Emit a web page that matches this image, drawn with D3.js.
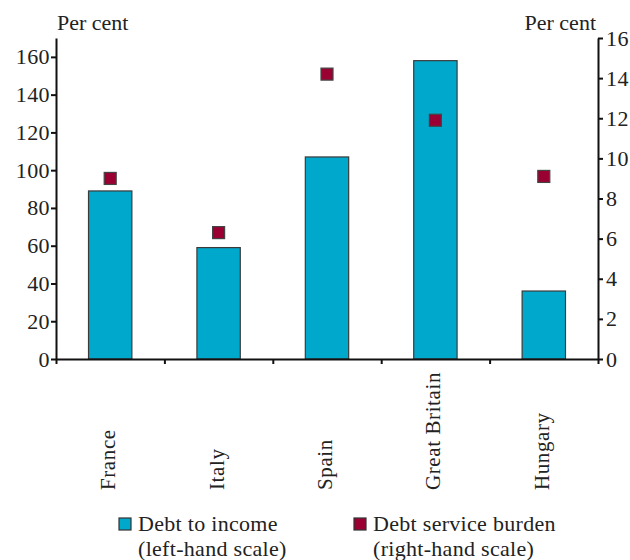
<!DOCTYPE html>
<html>
<head>
<meta charset="utf-8">
<script src="https://cdn.jsdelivr.net/npm/d3@7"></script>
<style>
  body { margin: 0; background: #fff; }
  text { font-family: "Liberation Serif", "DejaVu Serif", serif; fill: #222; }
</style>
</head>
<body>
<div class="chart"></div>
<script>
// values
var countries = ["France", "Italy", "Spain", "Great Britain", "Hungary"];
var debtToIncome = [89, 59, 107, 158, 36];          // left-hand scale, per cent
var debtService = [9.0, 6.3, 14.2, 11.9, 9.1];      // right-hand scale, per cent
var leftTicks = [0, 20, 40, 60, 80, 100, 120, 140, 160];
var rightTicks = [0, 2, 4, 6, 8, 10, 12, 14, 16];
var legendLabels = [["Debt to income", "(left-hand scale)"], ["Debt service burden", "(right-hand scale)"]];

var width = 630, height = 560;
var x0 = 56, x1 = 598, yBase = 359, yTop = 38;

var svg = d3.select("div.chart").append("svg")
  .attr("width", width)
  .attr("height", height);

var x = d3.scaleBand()
  .domain(countries)
  .range([x0, x1])
  .paddingInner(0.6)
  .paddingOuter(0.3);

var yLeft = d3.scaleLinear().domain([0, 170]).range([yBase, yTop]);
var yRight = d3.scaleLinear().domain([0, 16]).range([yBase, yTop]);
// boundaries between categories for the bottom ticks
var xEdge = d3.scaleLinear().domain([0, countries.length]).range([x0, x1]);

// bars
svg.selectAll("rect.bar")
  .data(countries)
  .enter().append("rect")
  .attr("class", "bar")
  .attr("x", function (d) { return x(d); })
  .attr("width", x.bandwidth())
  .attr("y", function (d, i) { return yLeft(debtToIncome[i]); })
  .attr("height", function (d, i) { return yBase - yLeft(debtToIncome[i]); })
  .style("fill", "#00a9cb")
  .style("stroke", "#3a3a3a")
  .style("stroke-width", 1.2);

// markers
var ms = 12;
svg.selectAll("rect.mark")
  .data(countries)
  .enter().append("rect")
  .attr("class", "mark")
  .attr("x", function (d) { return x(d) + x.bandwidth() / 2 - ms / 2; })
  .attr("y", function (d, i) { return yRight(debtService[i]) - ms / 2; })
  .attr("width", ms)
  .attr("height", ms)
  .style("fill", "#9b0033")
  .style("stroke", "#444")
  .style("stroke-width", 1.2);

function styleAxis(g) {
  g.selectAll("path, line").style("stroke", "#111").style("stroke-width", 2);
  g.selectAll("text").style("font-family", "'Liberation Serif', serif")
    .style("font-size", "22px").style("letter-spacing", "0.4px").style("fill", "#222");
}

// left axis
svg.append("g")
  .attr("transform", "translate(" + x0 + ",0)")
  .call(d3.axisLeft(yLeft).tickValues(leftTicks).tickSize(5).tickSizeOuter(0).tickPadding(1))
  .call(styleAxis);

// right axis
svg.append("g")
  .attr("transform", "translate(" + x1 + ",0)")
  .call(d3.axisRight(yRight).tickValues(rightTicks).tickSize(5).tickSizeOuter(0).tickPadding(3))
  .call(styleAxis);

// bottom axis
svg.append("g")
  .attr("transform", "translate(0," + yBase + ")")
  .call(d3.axisBottom(xEdge).tickValues(d3.range(countries.length + 1)).tickFormat("").tickSize(5).tickSizeOuter(0))
  .call(styleAxis);

// category labels, rotated
svg.selectAll("text.cat")
  .data(countries)
  .enter().append("text")
  .attr("class", "cat")
  .attr("transform", function (d) { return "translate(" + (x(d) + x.bandwidth() / 2 + 5) + ",490) rotate(-90)"; })
  .style("font-size", "21px")
  .style("letter-spacing", "0.6px")
  .text(function (d) { return d; });

// axis titles
svg.append("text").attr("x", 57).attr("y", 30).style("font-size", "22px").text("Per cent");
svg.append("text").attr("x", 596).attr("y", 30).attr("text-anchor", "end").style("font-size", "22px").text("Per cent");

// legend
var legendX = [119, 354];
var legendColor = ["#00a9cb", "#9b0033"];
var lg = svg.selectAll("g.legend")
  .data(legendLabels)
  .enter().append("g")
  .attr("class", "legend")
  .attr("transform", function (d, i) { return "translate(" + legendX[i] + ",0)"; });
lg.append("rect")
  .attr("x", 0).attr("y", 518).attr("width", 12).attr("height", 12)
  .style("fill", function (d, i) { return legendColor[i]; })
  .style("stroke", "#333").style("stroke-width", 1.2);
lg.append("text")
  .attr("x", 19).attr("y", 531)
  .style("font-size", "22px").style("letter-spacing", "0.3px")
  .text(function (d) { return d[0]; });
lg.append("text")
  .attr("x", 19).attr("y", 556)
  .style("font-size", "22px").style("letter-spacing", "0.3px")
  .text(function (d) { return d[1]; });
</script>
</body>
</html>
